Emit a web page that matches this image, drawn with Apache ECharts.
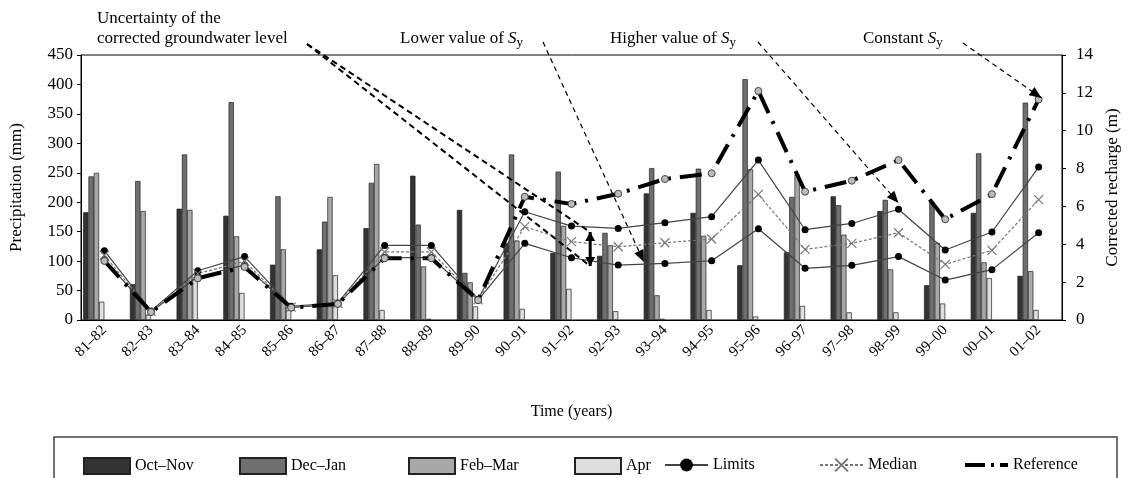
<!DOCTYPE html>
<html>
<head>
<meta charset="utf-8">
<script src="https://cdn.jsdelivr.net/npm/echarts@6/dist/echarts.min.js"></script>
<style>
html, body { margin: 0; padding: 0; background: #fff; }
#main { width: 1129px; height: 478px; }
</style>
</head>
<body>
<div id="main"></div>
<script>
// categories
var years = ['81–82','82–83','83–84','84–85','85–86','86–87','87–88','88–89','89–90','90–91',
    '91–92','92–93','93–94','94–95','95–96','96–97','97–98','98–99','99–00','00–01','01–02'];
// precipitation (mm)
var octNov = [183, 61, 189, 177, 94, 120, 156, 245, 187, 131, 114, 109, 215, 182, 93, 115, 210, 185, 59, 182, 75];
var decJan = [244, 236, 281, 370, 210, 167, 233, 162, 80, 281, 252, 148, 258, 257, 409, 209, 195, 204, 201, 283, 369];
var febMar = [250, 185, 187, 142, 120, 209, 265, 91, 64, 135, 160, 127, 42, 143, 256, 247, 145, 86, 131, 98, 83];
var apr = [31, 9, 70, 46, 22, 76, 17, 2, 23, 19, 53, 15, 2, 17, 6, 24, 13, 13, 28, 71, 17];
// corrected recharge (m)
var upperLimit = [3.66, 0.48, 2.6, 3.35, 0.72, 0.9, 3.94, 3.94, 1.1, 5.72, 4.96, 4.84, 5.14, 5.46, 8.45, 4.77, 5.1, 5.85, 3.7, 4.65, 8.08];
var median = [3.42, 0.45, 2.45, 3.1, 0.68, 0.87, 3.6, 3.6, 1.07, 4.93, 4.14, 3.87, 4.08, 4.28, 6.64, 3.73, 4.05, 4.61, 2.94, 3.68, 6.36];
var lowerLimit = [3.2, 0.42, 2.3, 2.9, 0.65, 0.85, 3.3, 3.3, 1.05, 4.05, 3.29, 2.9, 2.99, 3.13, 4.82, 2.73, 2.89, 3.35, 2.11, 2.66, 4.61];
var reference = [3.12, 0.42, 2.2, 2.8, 0.65, 0.85, 3.26, 3.26, 1.05, 6.51, 6.13, 6.67, 7.45, 7.75, 12.1, 6.78, 7.36, 8.45, 5.32, 6.65, 11.65];
// axis ticks
var precipTicks = [0, 450, 50];
var rechargeTicks = [0, 14, 2];

var font = 'Liberation Serif';
var chart = echarts.init(document.getElementById('main'));

function barSeries(name, data, color) {
    return {
        name: name, type: 'bar', data: data, barWidth: 5.3, barGap: '0%',
        itemStyle: { color: color, borderColor: '#222', borderWidth: 0.7 },
        z: 2
    };
}
function dummyBar(n) {
    return { name: 'pad' + n, type: 'bar', data: years.map(function () { return '-'; }), barWidth: 5.3, barGap: '0%', silent: true };
}

function legendAt(name, left, w, icon) {
    var l = {
        data: [name], left: left, top: 452, itemWidth: w, itemHeight: 16, itemGap: 0,
        textStyle: { fontFamily: font, fontSize: 16, color: '#000' }, selectedMode: false
    };
    if (icon) l.icon = icon;
    return l;
}
var refLegend = legendAt('Reference', 958, 43);
refLegend.lineStyle = { width: 4, type: [20, 6, 3, 6], color: '#000' };
refLegend.itemStyle = { opacity: 0 };

var option = {
    animation: false,
    backgroundColor: '#fff',
    grid: { left: 79, right: 56, top: 55, bottom: 158, show: true, borderColor: '#000', borderWidth: 1 },
    legend: [
        legendAt('Oct–Nov', 78, 46, 'rect'),
        legendAt('Dec–Jan', 234, 46, 'rect'),
        legendAt('Feb–Mar', 403, 46, 'rect'),
        legendAt('Apr', 569, 46, 'rect'),
        legendAt('Limits', 659, 43),
        legendAt('Median', 814, 43),
        refLegend
    ],
    xAxis: {
        type: 'category', data: years,
        name: 'Time (years)', nameLocation: 'middle', nameGap: 84,
        nameTextStyle: { fontFamily: font, fontSize: 16, color: '#000' },
        axisLine: { lineStyle: { color: '#000' } },
        axisTick: { length: 5, lineStyle: { color: '#000' } },
        axisLabel: { rotate: 45, fontFamily: font, fontSize: 15, color: '#000', margin: 8, interval: 0 }
    },
    yAxis: [{
        type: 'value', min: precipTicks[0], max: precipTicks[1], interval: precipTicks[2],
        name: 'Precipitation (mm)', nameLocation: 'middle', nameGap: 56, nameRotate: 90,
        nameTextStyle: { fontFamily: font, fontSize: 17, color: '#000' },
        axisLine: { show: true, lineStyle: { color: '#000' } },
        axisTick: { show: true, length: 4, lineStyle: { color: '#000' } },
        axisLabel: { fontFamily: font, fontSize: 17, color: '#000', margin: 8 },
        splitLine: { show: false }
    }, {
        type: 'value', min: rechargeTicks[0], max: rechargeTicks[1], interval: rechargeTicks[2],
        name: 'Corrected recharge (m)', nameLocation: 'middle', nameGap: 42, nameRotate: 90,
        nameTextStyle: { fontFamily: font, fontSize: 17, color: '#000' },
        axisLine: { show: true, lineStyle: { color: '#000' } },
        axisTick: { show: true, length: 4, lineStyle: { color: '#000' } },
        axisLabel: { fontFamily: font, fontSize: 17, color: '#000', margin: 14 },
        splitLine: { show: false }
    }],
    series: [
        barSeries('Oct–Nov', octNov, '#333333'),
        barSeries('Dec–Jan', decJan, '#6f6f6f'),
        barSeries('Feb–Mar', febMar, '#a8a8a8'),
        barSeries('Apr', apr, '#dedede'),
        dummyBar(1), dummyBar(2), dummyBar(3), dummyBar(4),
        {
            name: 'Limits', type: 'line', yAxisIndex: 1, data: upperLimit,
            symbol: 'circle', symbolSize: 7,
            lineStyle: { color: '#444', width: 1.2 },
            itemStyle: { color: '#000' }, z: 5
        },
        {
            name: 'Limits', type: 'line', yAxisIndex: 1, data: lowerLimit,
            symbol: 'circle', symbolSize: 7,
            lineStyle: { color: '#444', width: 1.2 },
            itemStyle: { color: '#000' }, z: 5
        },
        {
            name: 'Median', type: 'line', yAxisIndex: 1, data: median,
            symbol: 'path://M0,0L10,10M10,0L0,10', symbolSize: 9,
            lineStyle: { color: '#777', width: 1.2, type: [3, 2] },
            itemStyle: { color: '#777', borderColor: '#777', borderWidth: 1.2 }, z: 5
        },
        {
            name: 'Reference', type: 'line', yAxisIndex: 1, data: reference,
            symbol: 'circle', symbolSize: 7,
            lineStyle: { color: '#000', width: 4, type: [22, 9, 3, 9] },
            itemStyle: { color: '#bbb', borderColor: '#444', borderWidth: 1 }, z: 6
        }
    ]
};
chart.setOption(option);

// annotation arrows pointing at data positions
function px(idx, val) {
    var i0 = Math.floor(idx), f = idx - i0;
    var xa = chart.convertToPixel({ xAxisIndex: 0 }, i0);
    var xb = chart.convertToPixel({ xAxisIndex: 0 }, i0 + 1);
    var y = chart.convertToPixel({ yAxisIndex: 1 }, val);
    return [xa + (xb - xa) * f, y];
}
function head(from, to, len, w) {
    var a = Math.atan2(to[1] - from[1], to[0] - from[0]);
    var bx = to[0] - len * Math.cos(a), by = to[1] - len * Math.sin(a);
    return {
        type: 'polygon', z: 20,
        shape: { points: [to, [bx + w * Math.sin(a), by - w * Math.cos(a)], [bx - w * Math.sin(a), by + w * Math.cos(a)]] },
        style: { fill: '#000' }
    };
}
function seg(from, to, width, dash) {
    return {
        type: 'line', z: 20,
        shape: { x1: from[0], y1: from[1], x2: to[0], y2: to[1] },
        style: { stroke: '#000', lineWidth: width, lineDash: dash }
    };
}
function label(text, x, y) {
    return {
        type: 'text', left: x, top: y, z: 20,
        style: {
            text: text, fill: '#000', font: '17px ' + font,
            rich: {
                n: { fontFamily: font, fontSize: 17 },
                i: { fontFamily: font, fontSize: 17, fontStyle: 'italic' },
                s: { fontFamily: font, fontSize: 13, padding: [9, 0, 0, 0] }
            }
        }
    };
}

var uTop = px(10.4, 4.65), uBot = px(10.4, 2.85);
var lowT = px(11.55, 3.06), highT = px(17.0, 6.18), constT = px(20.06, 11.73);
var uStart = [307, 44], lowS = [543, 42], highS = [758, 42], constS = [963, 43];

chart.setOption({
    graphic: [
        label('Uncertainty of the', 97, 10),
        label('corrected groundwater level', 97, 30),
        label('{n|Lower value of }{i|S}{s|y}', 400, 30),
        label('{n|Higher value of }{i|S}{s|y}', 610, 30),
        label('{n|Constant }{i|S}{s|y}', 863, 30),
        seg(uStart, uTop, 2, [6, 4]),
        seg(uStart, uBot, 2, [6, 4]),
        seg(uTop, uBot, 3, null),
        head(uBot, uTop, 9, 5),
        head(uTop, uBot, 9, 5),
        seg(lowS, lowT, 1.2, [5, 4]),
        head(lowS, lowT, 12, 5),
        seg(highS, highT, 1.2, [5, 4]),
        head(highS, highT, 12, 5),
        seg(constS, constT, 1.2, [5, 4]),
        head(constS, constT, 12, 5),
        {
            type: 'rect', z: 1, silent: true,
            shape: { x: 54, y: 437, width: 1063, height: 60 },
            style: { fill: 'none', stroke: '#444', lineWidth: 1.5 }
        }
    ]
});
</script>
</body>
</html>
